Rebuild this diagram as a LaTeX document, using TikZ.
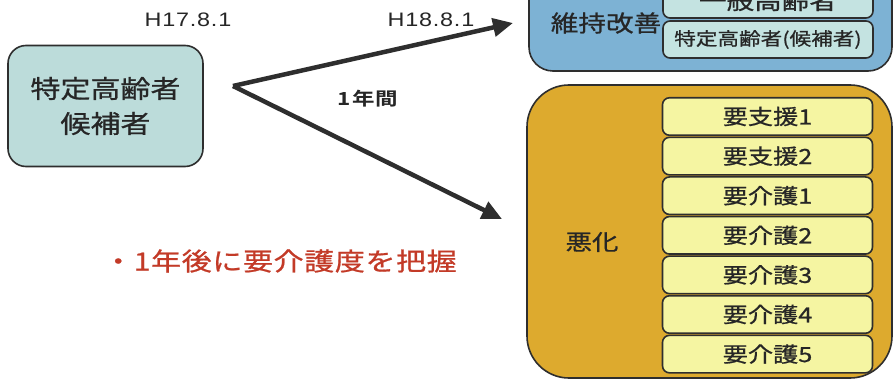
\documentclass[tikz,border=0pt]{standalone}
\usepackage{fontspec}
\newfontfamily\jp[FakeStretch=1.2,FakeBold=0.8]{Noto Sans CJK JP}
\newfontfamily\jpb[FakeStretch=1.25]{Noto Sans CJK JP Bold}
\newfontfamily\lat[FakeStretch=1.2]{Liberation Sans}
\usetikzlibrary{arrows.meta}
\definecolor{txt}{HTML}{262626}
\definecolor{edge}{HTML}{2E2E2E}
\definecolor{candfill}{HTML}{BCDCDA}
\definecolor{bluefill}{HTML}{7DB2D4}
\definecolor{tealfill}{HTML}{C4E3E1}
\definecolor{goldfill}{HTML}{DDAA2E}
\definecolor{yelfill}{HTML}{F5F5A2}
\definecolor{redtxt}{HTML}{C33A27}
\tikzset{
  boxline/.style={draw=edge, line width=1.6pt, text=txt},
  candbox/.style={boxline, fill=candfill, rounded corners=18pt, minimum width=195pt, minimum height=121pt, align=center},
  bigblue/.style={boxline, fill=bluefill, rounded corners=24pt, minimum width=363pt, minimum height=120pt},
  biggold/.style={boxline, fill=goldfill, rounded corners=42pt, minimum width=365pt, minimum height=293pt},
  tealbox/.style={boxline, fill=tealfill, rounded corners=7pt, minimum width=210pt, minimum height=36pt},
  yelbox/.style={boxline, fill=yelfill, rounded corners=7pt, minimum width=210pt, minimum height=37.5pt, font=\jp\fontsize{21}{24}\selectfont},
  arrowline/.style={draw=edge, line width=4.5pt, -{Triangle[length=20pt,width=18pt]}},
  datelbl/.style={text=txt, font=\lat\fontsize{19.5}{22}\selectfont\addfontfeature{LetterSpace=4}},
}
\begin{document}
\begin{tikzpicture}[x=1pt,y=-1pt]
\useasboundingbox (0,0) rectangle (895,382);
\clip (0,0) rectangle (895,382);
\fill[white] (0,0) rectangle (895,382);

% candidate box
\node[candbox, font=\jp\fontsize{25}{35}\selectfont] (cand) at (105.5,106) {特定高齢者\\候補者};

% dates
\node[datelbl] (d17) at (188,20) {H17.8.1};
\node[datelbl] (d18) at (431,20) {H18.8.1};

% arrows
\coordinate (fork) at (233,86);
\coordinate (tipU) at (513,23);
\coordinate (tipD) at (502,219);
\draw[arrowline] (fork) -- (tipU);
\draw[arrowline] (fork) -- (tipD);
\node[text=txt, font=\jpb\fontsize{18}{22}\selectfont\addfontfeature{LetterSpace=5}] (year) at (368,99) {1年間};

% red note
\node[text=redtxt, font=\jp\fontsize{25}{30}\selectfont\addfontfeature{LetterSpace=2.5}] (note) at (280,261) {・1年後に要介護度を把握};

% improvement box
\node[bigblue] (imp) at (710.5,11) {};
\node[text=txt, font=\jp\fontsize{23}{28}\selectfont] (implbl) at (606,23) {維持改善};
\node[tealbox] (gen) at (768,0) {};
\node[text=txt, font=\jp\fontsize{23}{28}\selectfont] (genlbl) at (768,0.5) {一般高齢者};
\node[tealbox, minimum height=37pt, font=\jp\fontsize{18}{20}\selectfont] (spec) at (768,39.5) {特定高齢者(候補者)};

% deterioration box
\node[biggold] (det) at (709.5,231.5) {};
\node[text=txt, font=\jp\fontsize{22}{26}\selectfont] (detlbl) at (592,242) {悪化};
\node[yelbox] (s1) at (767.5,116.5) {要支援1};
\node[yelbox] (s2) at (767.5,156.1) {要支援2};
\node[yelbox] (k1) at (767.5,195.7) {要介護1};
\node[yelbox] (k2) at (767.5,235.3) {要介護2};
\node[yelbox] (k3) at (767.5,274.9) {要介護3};
\node[yelbox] (k4) at (767.5,314.5) {要介護4};
\node[yelbox] (k5) at (767.5,354.1) {要介護5};
\end{tikzpicture}
\end{document}
